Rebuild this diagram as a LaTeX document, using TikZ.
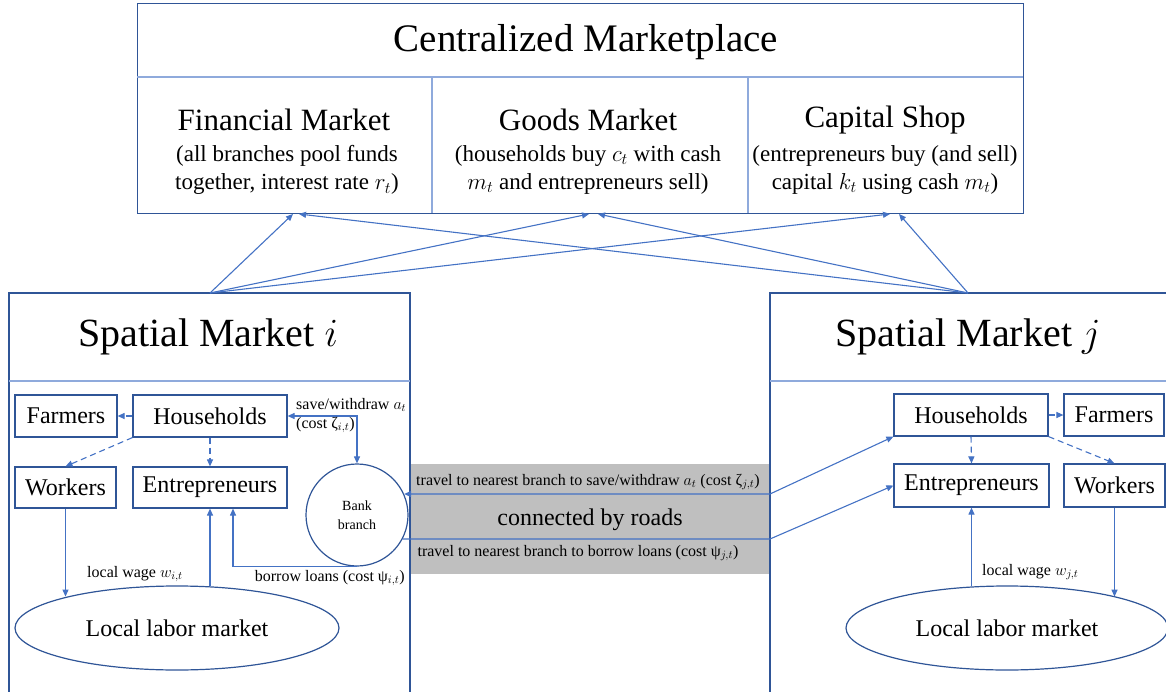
\RequirePackage{fix-cm}
\documentclass[tikz,border=0pt]{standalone}
\usepackage{fontspec}
\setmainfont{Liberation Serif}
\usetikzlibrary{arrows.meta,shapes.geometric}
\definecolor{boxblue}{RGB}{47,85,151}
\definecolor{arrblue}{RGB}{68,114,196}
\definecolor{divblue}{RGB}{143,170,220}
\definecolor{roadgray}{RGB}{191,191,191}
\newcommand\fsz[2]{\fontsize{#1}{#2}\selectfont}
\tikzset{
  boxnode/.style={draw=boxblue, line width=1.2pt, rectangle, inner sep=0pt, font=\fsz{24}{28}},
  ovalnode/.style={draw=boxblue, line width=1.2pt, ellipse, inner sep=0pt, font=\fsz{24}{28}},
  conn/.style={draw=arrblue, line width=1.1pt, -{Triangle[length=7pt,width=6pt]}},
  dconn/.style={conn, dash pattern=on 6pt off 4pt},
  bconn/.style={draw=arrblue, line width=1.1pt, {Triangle[length=7pt,width=6pt]}-{Triangle[length=7pt,width=6pt]}},
  plainconn/.style={draw=arrblue, line width=1.1pt},
  divline/.style={draw=divblue, line width=1.1pt},
  frame/.style={draw=boxblue, line width=1.2pt},
  small/.style={font=\fsz{16}{19}, inner sep=0pt},
}
\begin{document}
\begin{tikzpicture}[x=1pt,y=-1pt]
\useasboundingbox (0,0) rectangle (1166,692);
\clip (0,0) rectangle (1166,692);

% road band
\fill[roadgray] (410,464) rectangle (770,574);

% centralized marketplace
\node[frame, rectangle, minimum width=886pt, minimum height=210pt, anchor=north west, inner sep=0pt] (cm) at (137,3) {};
\draw[divline] (137,77) -- (1023,77);
\draw[divline] (432,77) -- (432,213);
\draw[divline] (748,77) -- (748,213);
\node[font=\fsz{39}{44}] (cmt) at (586,42) {Centralized Marketplace};
\node[font=\fsz{31}{36}] (fmt) at (284,120) {Financial Market};
\node[font=\fsz{23}{28}, align=center] (fmd) at (287,170) {(all branches pool funds\\together, interest rate $r_t$)};
\node[font=\fsz{31}{36}] (gmt) at (588,120) {Goods Market};
\node[font=\fsz{23}{28}, align=center] (gmd) at (588,170) {(households buy $c_t$ with cash\\$m_t$ and entrepreneurs sell)};
\node[font=\fsz{31}{36}] (cst) at (885,120) {Capital Shop};
\node[font=\fsz{23}{28}, align=center] (csd) at (885,170) {(entrepreneurs buy (and sell)\\capital $k_t$ using cash $m_t$)};

% spatial market frames
\draw[frame] (9,700) -- (9,293) -- (410,293) -- (410,700);
\draw[frame] (770,700) -- (770,293) -- (1175,293);
\draw[divline] (9,381) -- (410,381);
\draw[divline] (770,381) -- (1166,381);
\node[font=\fsz{40}{44}] (smi) at (208,337) {Spatial Market $i$};
\node[font=\fsz{40}{44}] (smj) at (968,337) {Spatial Market $j$};

% apex coordinates and targets
\coordinate (apL) at (210,293);
\coordinate (apR) at (968,293);
\coordinate (tF1) at (293,214);
\coordinate (tG1) at (589,214);
\coordinate (tC1) at (890,214);
\coordinate (tF2) at (299,214);
\coordinate (tG2) at (598,214);
\coordinate (tC2) at (899,214);
\draw[conn] (apL) -- (tF1);
\draw[conn] (apL) -- (tG1);
\draw[conn] (apL) -- (tC1);
\draw[conn] (apR) -- (tF2);
\draw[conn] (apR) -- (tG2);
\draw[conn] (apR) -- (tC2);

% left market nodes
\node[boxnode, minimum width=102pt, minimum height=42pt] (farL) at (66,416) {Farmers};
\node[boxnode, minimum width=154pt, minimum height=42pt] (hhL) at (210,416) {Households};
\node[boxnode, minimum width=101pt, minimum height=41pt] (wkL) at (65.5,487.5) {Workers};
\node[boxnode, minimum width=154pt, minimum height=41pt] (enL) at (210,487.5) {Entrepreneurs};
\node[draw=boxblue, line width=1.2pt, circle, minimum size=102pt, inner sep=0pt, align=center, font=\fsz{14}{19}] (bank) at (357,515) {Bank\\branch};
\node[ovalnode, minimum width=324pt, minimum height=84pt] (llmL) at (177,628) {Local labor market};

% right market nodes
\node[boxnode, minimum width=154pt, minimum height=42pt] (hhR) at (971,415) {Households};
\node[boxnode, minimum width=100pt, minimum height=42pt] (farR) at (1114,415) {Farmers};
\node[boxnode, minimum width=155pt, minimum height=43pt] (enR) at (971.5,485.5) {Entrepreneurs};
\node[boxnode, minimum width=101pt, minimum height=43pt] (wkR) at (1114.5,485.5) {Workers};
\node[ovalnode, minimum width=322pt, minimum height=84pt] (llmR) at (1007,628) {Local labor market};

% left arrows
\draw[dconn] (hhL.west) -- (farL.east);
\draw[dconn] (hhL.south west) -- (wkL.north);
\draw[dconn] (hhL.south) -- (enL.north);
\draw[conn] (wkL.south) -- (wkL.south |- llmL.164.6);
\draw[conn] (enL.south |- llmL.51.2) -- (enL.south);
\node[small, anchor=west] (lwL) at (87,574) {local wage $w_{i,t}$};
\draw[conn] (bank.south) -| ([xshift=23pt]enL.south);
\node[small, anchor=east] (blL) at (405,578) {borrow loans (cost ψ$_{i,t}$)};
\draw[bconn] (hhL.east) -| (bank.north);
\node[small, anchor=west] (swL) at (296,405) {save/withdraw $a_t$};
\node[small, anchor=west] (csL) at (296,425) {(cost ζ$_{i,t}$)};

% road connections
\coordinate (rd1) at (770,494);
\coordinate (rd2) at (770,539);
\draw[bconn] (bank.24.3 |- rd1) -- (rd1) -- (hhR.south west);
\draw[conn] (bank.-28 |- rd2) -- (rd2) -- (enR.west);
\node[small] (tr1) at (588,482) {travel to nearest branch to save/withdraw $a_t$ (cost ζ$_{j,t}$)};
\node[font=\fsz{24}{28}] (cbr) at (590,520) {connected by roads};
\node[small] (tr2) at (578,553) {travel to nearest branch to borrow loans (cost ψ$_{j,t}$)};

% right arrows
\draw[dconn] (hhR.east) -- (farR.west);
\draw[dconn] (hhR.south) -- (enR.north);
\draw[dconn] (hhR.south east) -- (wkR.north);
\draw[conn] (wkR.south) -- (wkR.south |- llmR.16.1);
\draw[conn] (enR.south |- llmR.130.9) -- (enR.south);
\node[small, anchor=west] (lwR) at (982,572) {local wage $w_{j,t}$};
\end{tikzpicture}
\end{document}
